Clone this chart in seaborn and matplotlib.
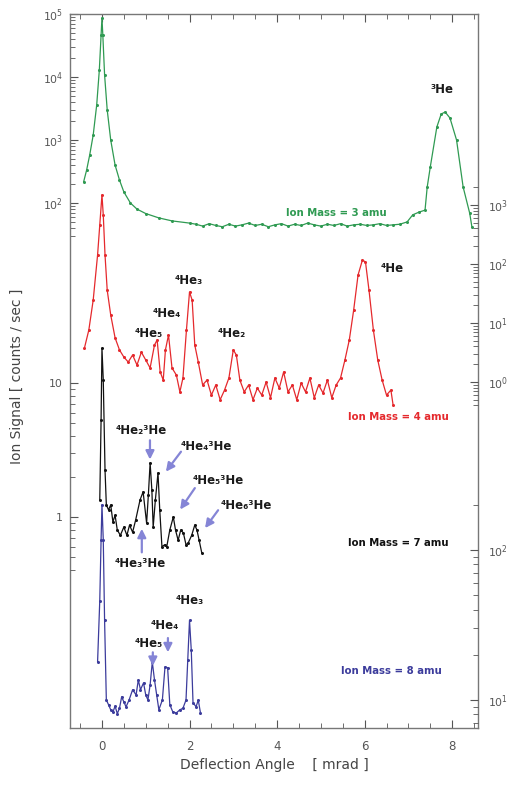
import matplotlib
matplotlib.use("Agg")
import matplotlib.pyplot as plt
import seaborn as sns
from matplotlib.ticker import FixedLocator, FixedFormatter, LogFormatterSciNotation, NullFormatter

sns.set_style("ticks")
plt.rcParams['font.family'] = ['DejaVu Sans']

# ---------------- data ----------------
# Ion mass = 3 amu (green, left upper axis)
green_x = [-0.42, -0.35, -0.28, -0.2, -0.12, -0.06, -0.02, 0.0, 0.02, 0.06, 0.12, 0.2, 0.3, 0.4,
           0.5, 0.65, 0.8, 1.0, 1.3, 1.6, 2.0, 2.15, 2.3, 2.45, 2.6, 2.75, 2.9, 3.05, 3.2, 3.35,
           3.5, 3.65, 3.8, 3.95, 4.1, 4.25, 4.4, 4.55, 4.7, 4.85, 5.0, 5.15, 5.3, 5.45, 5.6,
           5.75, 5.9, 6.05, 6.2, 6.35, 6.5, 6.65, 6.8, 6.97, 7.1, 7.25, 7.38, 7.43, 7.5, 7.65,
           7.75, 7.84, 7.95, 8.1, 8.25, 8.4, 8.45]
green_y = [215, 334, 578, 1200, 3600, 12900, 46000, 86500, 46000, 10800, 3000, 1000, 400, 232,
           150, 100, 80, 68, 58, 52, 48, 46, 43, 47, 44, 42, 46, 43, 45, 48, 44, 46, 42, 45,
           47, 43, 46, 44, 48, 45, 43, 46, 44, 47, 43, 45, 46, 44, 45, 47, 44, 45, 46, 50, 65,
           72, 77, 180, 373, 1610, 2590, 2780, 2230, 1000, 180, 69, 42]

# Ion mass = 4 amu (red, right upper axis)
red_x = [-0.4, -0.3, -0.2, -0.1, -0.05, 0.0, 0.03, 0.07, 0.12, 0.2, 0.3, 0.4, 0.5, 0.6, 0.7,
         0.8, 0.9, 1.0, 1.1, 1.2, 1.26, 1.33, 1.4, 1.45, 1.52, 1.6, 1.7, 1.78, 1.85, 1.93, 2.0,
         2.06, 2.12, 2.2, 2.3, 2.4, 2.5, 2.6, 2.7, 2.8, 2.9, 3.0, 3.07, 3.15, 3.25, 3.35, 3.45,
         3.55, 3.65, 3.75, 3.85, 3.95, 4.05, 4.15, 4.25, 4.35, 4.45, 4.55, 4.65, 4.75, 4.85,
         4.95, 5.05, 5.15, 5.25, 5.35, 5.45, 5.55, 5.65, 5.75, 5.85, 5.95, 6.02, 6.1, 6.2,
         6.3, 6.4, 6.5, 6.6, 6.65]
red_y = [3.77, 7.6, 24.5, 142, 458, 1480, 676, 142, 36, 13.7, 5.6, 3.5, 2.65, 2.18, 2.87,
         1.94, 3.2, 2.36, 1.73, 4.24, 5.15, 1.48, 1.08, 3.5, 6.26, 1.73, 1.31, 0.68, 1.17, 7.6,
         33.5, 24.5, 4.24, 2.18, 0.89, 1.08, 0.60, 0.89, 0.50, 0.73, 1.17, 3.5, 2.87, 1.08,
         0.68, 0.89, 0.50, 0.79, 0.60, 1.0, 0.54, 1.17, 0.79, 1.48, 0.68, 0.89, 0.50, 0.96,
         0.68, 1.17, 0.54, 0.89, 0.65, 1.08, 0.54, 0.89, 1.17, 2.36, 5.15, 16.6, 65, 117, 108,
         36, 7.6, 2.36, 1.08, 0.60, 0.73, 0.41]

# Ion mass = 7 amu (black, left lower axis)
black_x = [-0.05, -0.02, 0.0, 0.03, 0.07, 0.1, 0.15, 0.2, 0.25, 0.3, 0.35, 0.42, 0.5, 0.57,
           0.63, 0.7, 0.77, 0.87, 0.94, 1.02, 1.06, 1.1, 1.14, 1.17, 1.22, 1.28, 1.32, 1.37,
           1.43, 1.48, 1.55, 1.63, 1.68, 1.74, 1.8, 1.86, 1.92, 1.97, 2.05, 2.12, 2.17, 2.22,
           2.28]
black_y = [1.34, 5.3, 18.2, 10.5, 2.24, 1.23, 1.13, 1.23, 0.92, 1.03, 0.80, 0.73, 0.84, 0.73,
           0.87, 0.77, 0.95, 1.34, 1.54, 0.90, 1.46, 2.53, 1.59, 0.84, 1.34, 2.13, 1.13, 0.60,
           0.62, 0.60, 0.80, 1.0, 0.80, 0.67, 0.80, 0.76, 0.62, 0.64, 0.73, 0.87, 0.80, 0.67,
           0.54]

# Ion mass = 8 amu (blue, right lower axis)
blue_x = [-0.1, -0.05, -0.02, 0.0, 0.03, 0.06, 0.1, 0.15, 0.2, 0.25, 0.3, 0.35, 0.4, 0.45,
          0.5, 0.55, 0.62, 0.7, 0.78, 0.83, 0.88, 0.95, 1.0, 1.05, 1.1, 1.15, 1.2, 1.25, 1.3,
          1.38, 1.44, 1.5, 1.55, 1.62, 1.7, 1.78, 1.85, 1.92, 1.96, 2.0, 2.04, 2.08, 2.15,
          2.2, 2.25]
blue_y = [17.9, 46, 117, 200, 117, 34, 10, 9.3, 8.6, 8.3, 9.1, 8.1, 8.8, 10.5, 9.7, 9.0, 10,
          11.7, 10.8, 13.6, 11.7, 13.0, 10.8, 10, 12.6, 17.9, 13.6, 10.8, 8.6, 10, 16.6, 16.4,
          9.3, 8.3, 8.2, 8.6, 8.8, 10, 18.5, 34, 21.5, 9.6, 9.0, 10, 8.2]

x_ticks = [0, 2, 4, 6, 8]

# ---------------- styling ----------------
C_GREEN = '#2f9a52'
C_RED = '#e5292d'
C_BLACK = '#111111'
C_BLUE = '#3c3c9c'
C_ARROW = '#8585d6'
TICKC = '#555555'

fig = plt.figure(figsize=(5.13, 7.88), dpi=100)
rect = [70 / 513, 60 / 788, 408 / 513, 714 / 788]
axG = fig.add_axes(rect)
axR = fig.add_axes(rect, facecolor='none')
axK = fig.add_axes(rect, facecolor='none')
axB = fig.add_axes(rect, facecolor='none')

xlim = (-0.73, 8.59)
limits = {
    'G': (10 ** -6.333, 1e5),
    'R': (10 ** -5.864, 10 ** 6.237),
    'K': (10 ** -1.575, 10 ** 3.754),
    'B': (10 ** 0.813, 10 ** 5.573),
}


def minors(lo, hi):
    out = []
    for e in range(-3, 7):
        for k in range(2, 10):
            v = k * 10.0 ** e
            if lo <= v <= hi:
                out.append(v)
    return out


line_kw = dict(estimator=None, sort=False, marker='o', markersize=2.2,
               markeredgewidth=0, linewidth=0.9)

for ax, key in [(axG, 'G'), (axR, 'R'), (axK, 'K'), (axB, 'B')]:
    ax.set_yscale('log')
    ax.set_xlim(*xlim)
    ax.set_ylim(*limits[key])

sns.lineplot(x=green_x, y=green_y, ax=axG, color=C_GREEN, **line_kw)
sns.lineplot(x=red_x, y=red_y, ax=axR, color=C_RED, **line_kw)
sns.lineplot(x=black_x, y=black_y, ax=axK, color=C_BLACK, **line_kw)
sns.lineplot(x=blue_x, y=blue_y, ax=axB, color=C_BLUE, **line_kw)

for ax, key in [(axG, 'G'), (axR, 'R'), (axK, 'K'), (axB, 'B')]:
    ax.set_xlim(*xlim)
    ax.set_ylim(*limits[key])
    ax.set_xlabel('')
    ax.set_ylabel('')

# main axis: frame + x ticks + upper-left y ticks
for s in axG.spines.values():
    s.set_color('#777777')
    s.set_linewidth(1.0)
axG.xaxis.set_major_locator(FixedLocator(x_ticks))
axG.xaxis.set_minor_locator(FixedLocator([v / 2 for v in range(-1, 18)]))
axG.tick_params(axis='x', which='both', direction='in', top=True, bottom=True,
                colors=TICKC, labelsize=8.5, pad=9)
axG.tick_params(axis='x', which='major', length=6)
axG.tick_params(axis='x', which='minor', length=3.5)

axG.yaxis.set_major_locator(FixedLocator([1e2, 1e3, 1e4, 1e5]))
axG.yaxis.set_major_formatter(LogFormatterSciNotation())
axG.yaxis.set_minor_locator(FixedLocator(minors(30, 1e5)))
axG.yaxis.set_minor_formatter(NullFormatter())
axG.tick_params(axis='y', which='both', direction='in', left=True, right=False,
                colors=TICKC, labelsize=7.8, pad=5)

# overlays
for ax in (axR, axK, axB):
    for s in ax.spines.values():
        s.set_visible(False)
    ax.xaxis.set_visible(False)
    ax.patch.set_visible(False)

axK.yaxis.set_major_locator(FixedLocator([1, 10]))
axK.yaxis.set_major_formatter(FixedFormatter(['1', '10']))
axK.yaxis.set_minor_locator(FixedLocator(minors(0.4, 10)))
axK.yaxis.set_minor_formatter(NullFormatter())
axK.tick_params(axis='y', which='both', direction='in', left=True, right=False,
                colors=TICKC, labelsize=7.8, pad=5)

for ax, majors, lo, hi in [(axR, [1, 10, 100, 1000], 0.4, 2000), (axB, [10, 100], 7, 200)]:
    ax.yaxis.tick_right()
    ax.yaxis.set_major_locator(FixedLocator(majors))
    ax.yaxis.set_major_formatter(LogFormatterSciNotation())
    ax.yaxis.set_minor_locator(FixedLocator(minors(lo, hi)))
    ax.yaxis.set_minor_formatter(NullFormatter())
    ax.tick_params(axis='y', which='both', direction='in', left=False, right=True,
                   labelleft=False, labelright=True, colors=TICKC, labelsize=7.8, pad=7)

for ax in (axG, axR, axK, axB):
    ax.tick_params(axis='y', which='major', length=6)
    ax.tick_params(axis='y', which='minor', length=3.5)

# axis labels
axG.set_xlabel('Deflection Angle    [ mrad ]', fontsize=10, color='#444444')
axG.xaxis.set_label_coords(0.50, -0.042)
axG.set_ylabel('Ion Signal [ counts / sec ]', fontsize=10, color='#444444')
axG.yaxis.set_label_coords(-0.112, 0.493)

# annotations (axes-fraction positions)
T = axB.transAxes
lab = dict(transform=T, ha='center', va='center', fontsize=8.5, fontweight='bold', color='#1a1a1a')
mass = dict(transform=T, ha='center', va='center', fontsize=7.3, fontweight='bold')

axB.text(0.912, 0.894, '³He', **lab)
axB.text(0.654, 0.721, 'Ion Mass = 3 amu', color=C_GREEN, **mass)
axB.text(0.789, 0.644, '⁴He', **lab)
axB.text(0.804, 0.436, 'Ion Mass = 4 amu', color=C_RED, **mass)
axB.text(0.292, 0.627, '⁴He₃', **lab)
axB.text(0.238, 0.581, '⁴He₄', **lab)
axB.text(0.194, 0.553, '⁴He₅', **lab)
axB.text(0.397, 0.553, '⁴He₂', **lab)

axB.text(0.174, 0.417, '⁴He₂³He', **lab)
axB.text(0.333, 0.394, '⁴He₄³He', **lab)
axB.text(0.363, 0.347, '⁴He₅³He', **lab)
axB.text(0.431, 0.312, '⁴He₆³He', **lab)
axB.text(0.172, 0.230, '⁴He₃³He', **lab)
axB.text(0.804, 0.259, 'Ion Mass = 7 amu', color=C_BLACK, **mass)

axB.text(0.294, 0.179, '⁴He₃', **lab)
axB.text(0.233, 0.143, '⁴He₄', **lab)
axB.text(0.194, 0.118, '⁴He₅', **lab)
axB.text(0.789, 0.080, 'Ion Mass = 8 amu', color=C_BLUE, **mass)

arrows = [((0.196, 0.403), (0.196, 0.376)),
          ((0.272, 0.387), (0.235, 0.359)),
          ((0.306, 0.336), (0.270, 0.306)),
          ((0.363, 0.305), (0.331, 0.280)),
          ((0.176, 0.246), (0.176, 0.279)),
          ((0.203, 0.106), (0.203, 0.087)),
          ((0.240, 0.126), (0.240, 0.106))]
for (sx, sy), (ex, ey) in arrows:
    axB.annotate('', xy=(ex, ey), xytext=(sx, sy), xycoords='axes fraction',
                 textcoords='axes fraction',
                 arrowprops=dict(arrowstyle='-|>,head_length=0.5,head_width=0.25',
                                 color=C_ARROW, lw=1.6, shrinkA=0, shrinkB=0))

fig.savefig('out.png', dpi=100)
